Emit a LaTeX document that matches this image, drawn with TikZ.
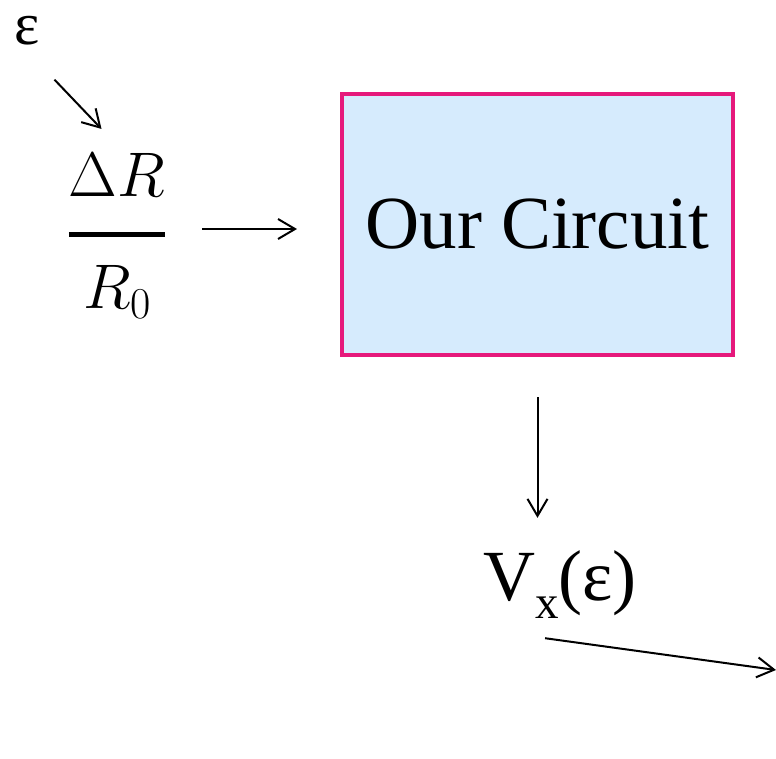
\RequirePackage{fix-cm}
\documentclass[tikz,border=0pt]{standalone}
\usepackage{amsmath}
\usepackage{fontspec}
\setmainfont{Liberation Serif}
\usetikzlibrary{positioning,arrows.meta,calc}
\definecolor{boxfill}{HTML}{D6EBFD}
\definecolor{boxline}{HTML}{E6197B}

\begin{document}
\begin{tikzpicture}[x=1pt,y=-1pt,every node/.style={inner sep=0pt},
  conn/.style={-{Straight Barb[length=17pt,width=20pt]},line width=2pt},
  circbox/.style={draw=boxline,fill=boxfill,line width=4pt,minimum width=391pt,minimum height=261pt}]
\useasboundingbox (0,0) rectangle (776,758);
% strain and resistance ratio
\node[font=\fontsize{60}{70}\selectfont] (eps) at (27,31) {ε};
\node[font=\fontsize{63}{70}\selectfont] (frac) at (117,236)
  {$\genfrac{}{}{5pt}{0}{\Delta R\rule[-20pt]{0pt}{20pt}}{\rule{0pt}{57pt}R_0}$};
% circuit block
\node[circbox,font=\fontsize{75}{80}\selectfont] (circ) at (537.5,224.5) {Our Circuit};
% output voltage
\node[anchor=base west,font=\fontsize{72}{80}\selectfont] (vx) at (483,600) {V\raisebox{-18pt}{\fontsize{47}{50}\selectfont x}(ε)};
\coordinate (vout) at (776,670);
% connectors
\draw[conn,shorten <=47pt,shorten >=34pt] ([xshift=-5pt]eps.south) -- ([xshift=8pt]frac.north);
\draw[conn,shorten <=36pt,shorten >=43pt] ([yshift=7pt]frac.east) -- ([yshift=7pt]frac.east -| circ.west);
\draw[conn,shorten <=40pt,shorten >=32pt] (circ.south) -- (circ.south |- vx.north);
\draw[conn] ([shift={(-15,20)}]vx.south) -- (vout);
\end{tikzpicture}
\end{document}
